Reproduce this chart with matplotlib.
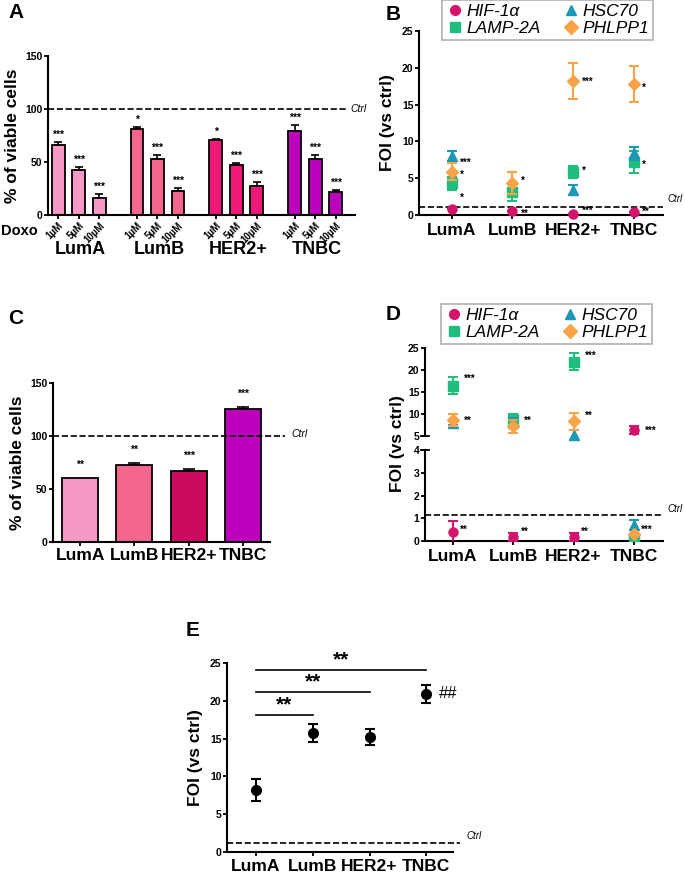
import numpy as np
import matplotlib
matplotlib.use('Agg')
import matplotlib.pyplot as plt
from matplotlib.lines import Line2D

plt.rcParams['font.family'] = ['Liberation Sans', 'DejaVu Sans']
plt.rcParams['font.weight'] = 'bold'
plt.rcParams['axes.labelweight'] = 'bold'
plt.rcParams['axes.linewidth'] = 1.5
plt.rcParams['xtick.major.width'] = 1.3
plt.rcParams['ytick.major.width'] = 1.3
plt.rcParams['xtick.major.size'] = 3
plt.rcParams['ytick.major.size'] = 3

# ---- data ----
groups = ['LumA', 'LumB', 'HER2+', 'TNBC']
doses = ['1µM', '5µM', '10µM']

# panel A: viability after doxo
a_vals = [[66.5, 42.5, 16.5], [81.5, 52.5, 22.5], [70.5, 47.5, 27.5], [79.5, 52.5, 21.5]]
a_err = [[2.5, 3, 3], [1.3, 4, 3], [1.2, 1.6, 3.4], [5.5, 4, 2.2]]
a_stars = [['***', '***', '***'], ['*', '***', '***'], ['*', '***', '***'], ['***', '***', '***']]

# panel C: viability
c_vals = [60.3, 72.5, 67.3, 125.5]
c_err = [0, 1.8, 1.6, 1.8]
c_stars = ['**', '**', '***', '***']

genes = ['HIF-1α', 'LAMP-2A', 'HSC70', 'PHLPP1']
gene_colors = ['#D4136B', '#20BE7E', '#1C97B4', '#F7A449']
gene_markers = ['o', 's', '^', 'D']

# panel B: FOI
b_mean = [[0.8, 0.5, 0.2, 0.45],
          [4.3, 3.1, 5.8, 7.2],
          [8.0, np.nan, 3.4, 8.4],
          [5.9, 4.3, 18.2, 17.8]]
b_err = [[0, 0, 0, 0],
         [0.9, 1.2, 0.8, 1.5],
         [0.7, 0, 0.7, 0.9],
         [1.1, 1.5, 2.5, 2.5]]
b_stars = [(0, 7.1, '***'), (0, 5.4, '*'), (0, 2.3, '*'),
           (1, 4.7, '*'), (1, 0.2, '**'),
           (2, 18.1, '***'), (2, 6.0, '*'), (2, 0.6, '***'),
           (3, 17.3, '*'), (3, 6.8, '*'), (3, 0.45, '**')]

# panel D: FOI (broken axis)
d_mean = [[0.4, 0.18, 0.18, 6.3],
          [16.4, 8.8, 21.9, 0.12],
          [8.0, 8.0, 5.2, 0.7],
          [8.6, 7.2, 8.3, 0.31]]
d_err = [[0.5, 0.17, 0.17, 0.9],
         [1.9, 1.2, 2.0, 0],
         [0.5, 1.0, 1.2, 0.22],
         [1.4, 1.5, 2.0, 0]]
d_stars_top = [(0, 18.1, '***'), (0, 8.4, '**'), (1, 8.4, '**'),
               (2, 23.2, '***'), (2, 9.5, '**'), (3, 6.1, '***')]
d_stars_bot = [(0, 0.5, '**'), (1, 0.4, '**'), (2, 0.4, '**'), (3, 0.47, '***')]

# panel E
e_mean = [8.2, 15.7, 15.2, 20.9]
e_err = [1.5, 1.2, 1.1, 1.2]
e_brackets = [(0, 1, 18.1, '**'), (0, 2, 21.1, '**'), (0, 3, 24.1, '**')]

ctrl_foi = 1.13

bar_colors_a = ['#F59AC6', '#F5668F', '#F0197A', '#BC00BC']
bar_colors_c = ['#F59AC6', '#F5668F', '#CC0A5E', '#BC00BC']

W, H = 685, 873
fig = plt.figure(figsize=(6.85, 8.73), dpi=100)


def px_axes(x0, x1, ytop, ybot):
    return fig.add_axes([x0 / W, 1 - ybot / H, (x1 - x0) / W, (ybot - ytop) / H])


def style(ax):
    ax.spines['top'].set_visible(False)
    ax.spines['right'].set_visible(False)
    ax.tick_params(labelsize=7.5, pad=1)


# ---------------- A ----------------
ax = px_axes(48, 355, 56, 215)
style(ax)
xa = []
for g in range(4):
    for i in range(3):
        x = g * 3.85 + i
        xa.append(x)
        v, e = a_vals[g][i], a_err[g][i]
        ax.bar(x, v, width=0.63, color=bar_colors_a[g], edgecolor='black', linewidth=1.3, zorder=2)
        ax.errorbar(x, v, yerr=[[0], [e]], color='black', capsize=3, elinewidth=1.2, capthick=1.2, zorder=1)
        ax.text(x, v + e + 2, a_stars[g][i], ha='center', va='bottom', fontsize=7.5)
    ax.text(g * 3.85 + 1.1, -0.22, groups[g], transform=ax.get_xaxis_transform(),
            ha='center', va='center', fontsize=13)
ax.set_xticks(xa)
ax.set_xticklabels(doses * 4, rotation=45, ha='right', rotation_mode='anchor', fontsize=7)
ax.set_xlim(-0.5, 14.5)
ax.set_ylim(0, 150)
ax.set_yticks([0, 50, 100, 150])
ax.plot([-0.5, 14.15], [100, 100], ls='--', color='black', lw=1.2, clip_on=False)
ax.text(14.3, 100, 'Ctrl', style='italic', fontweight='normal', fontsize=7.5, va='center', ha='left')
ax.set_ylabel('% of viable cells', fontsize=12.5, labelpad=4)
fig.text(1 / W, 1 - 231 / H, 'Doxo', fontsize=10.5, va='center', ha='left')
fig.text(8 / W, 1 - 13 / H, 'A', fontsize=15, va='center')

# ---------------- B ----------------
ax = px_axes(419, 663, 31, 215)
style(ax)
xs = np.arange(4)
for k in range(4):
    m = np.array(b_mean[k])
    e = np.array(b_err[k])
    ax.errorbar(xs, m, yerr=e, fmt=gene_markers[k], color=gene_colors[k], ms=6.5 if k != 3 else 6,
                capsize=3.5, elinewidth=1.5, capthick=1.5, clip_on=False, zorder=3 + k)
for gi, y, s in b_stars:
    ax.text(gi + 0.14, y, s, fontsize=7, ha='left', va='center')
ax.plot([-0.54, 3.48], [ctrl_foi, ctrl_foi], ls='--', color='black', lw=1.2)
ax.text(3.55, ctrl_foi + 0.3, 'Ctrl', style='italic', fontweight='normal', fontsize=7, ha='left', va='bottom')
ax.set_xlim(-0.54, 3.48)
ax.set_ylim(0, 25)
ax.set_yticks([0, 5, 10, 15, 20, 25])
ax.set_xticks(xs)
ax.set_xticklabels(groups, fontsize=12.5)
ax.tick_params(axis='x', pad=3)
ax.set_ylabel('FOI (vs ctrl)', fontsize=12.5, labelpad=5)
fig.text(386 / W, 1 - 14 / H, 'B', fontsize=15, va='center')

handles = [Line2D([], [], marker=gene_markers[k], color=gene_colors[k], ls='none', ms=7) for k in range(4)]
leg_kw = dict(ncol=2, loc='upper left', bbox_transform=fig.transFigure, fancybox=False,
              edgecolor='#B0B0B0', framealpha=1, handletextpad=0.2, columnspacing=1.2,
              labelspacing=0.12, borderpad=0.22, borderaxespad=0, handlelength=1.0,
              prop={'style': 'italic', 'weight': 'normal', 'size': 12.5})
leg = ax.legend(handles, genes, bbox_to_anchor=(442 / W, 1.0), **leg_kw)
leg.get_frame().set_linewidth(1.2)

# ---------------- C ----------------
ax = px_axes(53, 270, 383, 542)
style(ax)
for i in range(4):
    ax.bar(i, c_vals[i], width=0.66, color=bar_colors_c[i], edgecolor='black', linewidth=1.3, zorder=2)
    if c_err[i] > 0:
        ax.errorbar(i, c_vals[i], yerr=[[0], [c_err[i]]], color='black', capsize=4, elinewidth=1.2, capthick=1.2, zorder=1)
    ax.text(i, c_vals[i] + c_err[i] + 8, c_stars[i], ha='center', va='bottom', fontsize=7.5)
ax.set_xlim(-0.5, 3.5)
ax.set_ylim(0, 150)
ax.set_yticks([0, 50, 100, 150])
ax.set_xticks(range(4))
ax.set_xticklabels(groups, fontsize=12.5)
ax.plot([-0.5, 3.78], [100, 100], ls='--', color='black', lw=1.2, clip_on=False)
ax.text(3.9, 102, 'Ctrl', style='italic', fontweight='normal', fontsize=7.5, va='center', ha='left')
ax.set_ylabel('% of viable cells', fontsize=12.5, labelpad=4)
fig.text(8 / W, 1 - 318 / H, 'C', fontsize=15, va='center')

# ---------------- D ----------------
axt = px_axes(425, 663, 348, 436)
axb = px_axes(425, 663, 450, 541)
for a in (axt, axb):
    style(a)
    a.set_xlim(-0.46, 3.48)
axt.spines['bottom'].set_visible(False)
axt.tick_params(axis='x', bottom=False, labelbottom=False)
axt.set_ylim(5, 25)
axt.set_yticks([5, 10, 15, 20, 25])
axb.set_ylim(0, 4)
axb.set_yticks([0, 1, 2, 3, 4])
for k in range(4):
    m = np.array(d_mean[k])
    e = np.array(d_err[k])
    for a, lo, hi in ((axt, 5, 25), (axb, 0, 4)):
        sel = (m >= lo - 0.5) & (m <= hi)
        if sel.any():
            a.errorbar(xs[sel], m[sel], yerr=e[sel], fmt=gene_markers[k], color=gene_colors[k],
                       ms=6.5 if k != 3 else 6, capsize=3.5, elinewidth=1.5, capthick=1.5,
                       clip_on=(a is axb), zorder=3 + k)
for gi, y, s in d_stars_top:
    axt.text(gi + 0.18, y, s, fontsize=7, ha='left', va='center')
for gi, y, s in d_stars_bot:
    axb.text(gi + 0.12, y, s, fontsize=7, ha='left', va='center')
axb.plot([-0.46, 3.48], [ctrl_foi, ctrl_foi], ls='--', color='black', lw=1.2)
axb.text(3.55, ctrl_foi + 0.05, 'Ctrl', style='italic', fontweight='normal', fontsize=7, ha='left', va='bottom')
axb.set_xticks(xs)
axb.set_xticklabels(groups, fontsize=12.5)
axb.tick_params(axis='x', pad=3)
# axis break marks
for yb in (436, 450):
    fig.add_artist(Line2D([421 / W, 429 / W], [1 - yb / H, 1 - yb / H], color='black', lw=1.3))
fig.text(397 / W, 1 - 444 / H, 'FOI (vs ctrl)', rotation=90, fontsize=12.5, ha='center', va='center')
fig.text(386 / W, 1 - 314 / H, 'D', fontsize=15, va='center')
leg = axt.legend(handles, genes, bbox_to_anchor=(441 / W, 1 - 304 / H), **leg_kw)
leg.get_frame().set_linewidth(1.2)

# ---------------- E ----------------
ax = px_axes(227, 453, 663, 852)
style(ax)
ax.errorbar(xs, e_mean, yerr=e_err, fmt='o', color='black', ms=7, capsize=3.5, elinewidth=1.5, capthick=1.5)
for a0, a1, y, s in e_brackets:
    ax.plot([a0, a1], [y, y], color='black', lw=1.2, clip_on=False)
    ax.text((a0 + a1) / 2, y + 0.1, s, ha='center', va='bottom', fontsize=15)
ax.text(3.22, e_mean[3], '##', fontweight='normal', fontsize=12, ha='left', va='center')
ax.plot([-0.51, 3.6], [ctrl_foi, ctrl_foi], ls='--', color='black', lw=1.2, clip_on=False)
ax.text(3.7, ctrl_foi + 0.3, 'Ctrl', style='italic', fontweight='normal', fontsize=7, ha='left', va='bottom')
ax.set_xlim(-0.51, 3.47)
ax.set_ylim(0, 25)
ax.set_yticks([0, 5, 10, 15, 20, 25])
ax.set_xticks(xs)
ax.set_xticklabels(groups, fontsize=12.5)
ax.tick_params(axis='x', pad=2)
ax.set_ylabel('FOI (vs ctrl)', fontsize=12.5, labelpad=5)
fig.text(186 / W, 1 - 630 / H, 'E', fontsize=15, va='center')

fig.savefig('out.png', dpi=100)
